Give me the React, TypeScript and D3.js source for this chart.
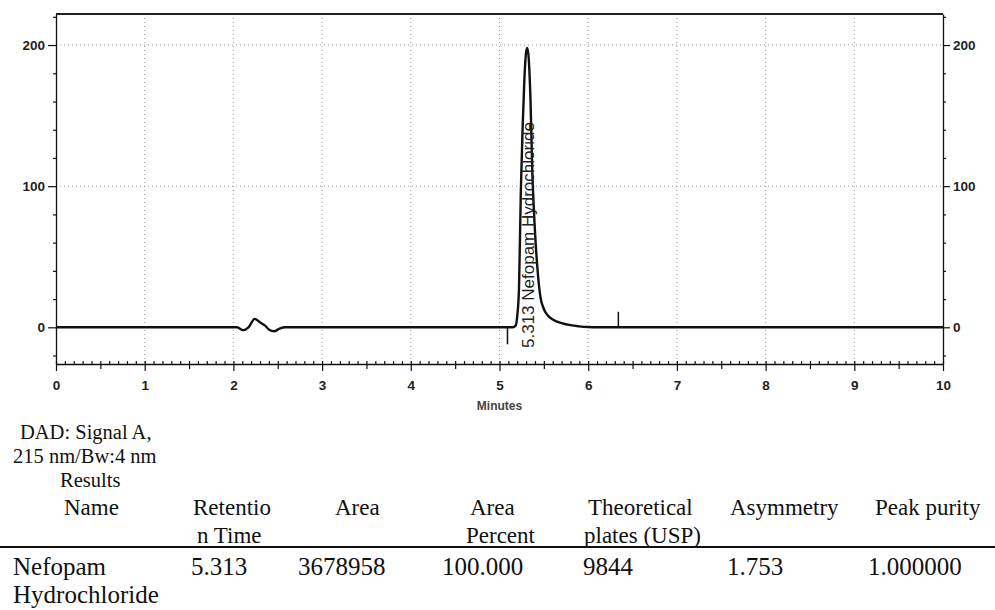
import React, { useEffect, useRef } from "react";
import * as d3 from "d3";

const W = 995;
const H = 610;
const margin = { top: 14, right: 52, bottom: 246, left: 56 };

// chromatogram trace (minutes, mAU)
const traceTime = [
  0, 2.04, 2.11, 2.17, 2.24, 2.3, 2.36, 2.4, 2.46, 2.52, 2.58,
  5.15, 5.18, 5.2, 5.22, 5.24, 5.26, 5.28, 5.3, 5.313, 5.33, 5.35, 5.37,
  5.4, 5.43, 5.46, 5.5, 5.55, 5.6, 5.7, 5.8, 5.9, 6.0, 6.1, 10,
];
const traceAbs = [
  0, 0, -2, 0, 6, 3.5, 1, -1.5, -2.8, -1, 0,
  0, 1, 8, 28, 95, 140, 175, 195, 198, 190, 160, 110,
  68, 40, 22, 13, 8, 5.5, 3, 1.5, 0.7, 0.2, 0, 0,
];

// integration event marks on the baseline
const markTime = [5.09, 6.34];
const markAbs = [-12, 11];

const peakTime = 5.313;
const peakLabel = "5.313 Nefopam Hydrochloride";

const xMajor = [0, 1, 2, 3, 4, 5, 6, 7, 8, 9, 10];
const xGrid = [1, 2, 3, 4, 5, 6, 7, 8, 9];
const yMajor = [0, 100, 200];
const yGrid = [100, 200];
const yMinor = [-20, 20, 40, 60, 80, 120, 140, 160, 180, 220];

// results table
const headerLines = ["DAD: Signal A,", "215 nm/Bw:4 nm", "Results"];
const colHead1 = ["Name", "Retentio", "Area", "Area", "Theoretical", "Asymmetry", "Peak purity"];
const colHead2 = ["", "n Time", "", "Percent", "plates (USP)", "", ""];
const rowValues = ["Nefopam", "5.313", "3678958", "100.000", "9844", "1.753", "1.000000"];
const rowValues2 = ["Hydrochloride", "", "", "", "", "", ""];

const colX1 = [64, 193, 335, 470, 588, 730, 875];
const colX2 = [64, 197, 335, 466, 584, 730, 875];
const colXData = [13, 191, 298, 442, 583, 727, 868];

const App = () => {
  const ref = useRef<SVGSVGElement>(null);

  useEffect(() => {
    const svg = d3.select(ref.current);
    svg.selectAll("*").remove();

    const width = W - margin.left - margin.right;
    const height = H - margin.top - margin.bottom;
    const x = d3.scaleLinear().domain([0, 10]).range([margin.left, margin.left + width]);
    const y = d3.scaleLinear().domain([-26, 222]).range([margin.top + height, margin.top]);
    const bottom = margin.top + height;
    const right = margin.left + width;

    //// Grid
    const grid = svg.append("g").attr("stroke", "#999").attr("stroke-width", 1)
      .attr("stroke-dasharray", "1,3");
    xGrid.forEach((t) => {
      grid.append("line").attr("x1", x(t)).attr("x2", x(t))
        .attr("y1", margin.top).attr("y2", bottom);
    });
    yGrid.forEach((v) => {
      grid.append("line").attr("x1", margin.left).attr("x2", right)
        .attr("y1", y(v)).attr("y2", y(v));
    });

    //// Axes
    const font = "'Liberation Sans', Arial, sans-serif";
    const styleAxis = (g: any) => {
      g.selectAll("path").attr("stroke", "#111").attr("stroke-width", 1.3);
      g.selectAll("line").attr("stroke", "#111").attr("stroke-width", 1.2);
      g.selectAll("text").attr("font-family", font).attr("font-size", 13.5)
        .attr("font-weight", "bold").attr("fill", "#222");
    };

    svg.append("g").attr("transform", `translate(${margin.left},0)`)
      .call(d3.axisLeft(y).tickValues(yMajor).tickSize(8).tickPadding(3).tickSizeOuter(0))
      .call(styleAxis);
    svg.append("g").attr("transform", `translate(${margin.left},0)`)
      .call(d3.axisLeft(y).tickValues(yMinor).tickSize(3).tickFormat(() => ""))
      .call((g) => g.select(".domain").remove())
      .call(styleAxis);
    svg.append("g").attr("transform", `translate(${right},0)`)
      .call(d3.axisRight(y).tickValues(yMajor).tickSize(7).tickPadding(3).tickSizeOuter(0))
      .call(styleAxis);
    svg.append("g").attr("transform", `translate(${right},0)`)
      .call(d3.axisRight(y).tickValues(yMinor).tickSize(3).tickFormat(() => ""))
      .call((g) => g.select(".domain").remove())
      .call(styleAxis);

    svg.append("g").attr("transform", `translate(0,${bottom})`)
      .call(d3.axisBottom(x).tickValues(xMajor).tickSize(7).tickPadding(9).tickSizeOuter(0))
      .call(styleAxis);
    svg.append("g").attr("transform", `translate(0,${bottom})`)
      .call(d3.axisBottom(x).tickValues(d3.range(0.5, 10, 1)).tickSize(5).tickFormat(() => ""))
      .call((g) => g.select(".domain").remove())
      .call(styleAxis);
    svg.append("g").attr("transform", `translate(0,${bottom})`)
      .call(d3.axisTop(x).ticks(100).tickSize(3).tickFormat(() => ""))
      .call((g) => g.select(".domain").remove())
      .call(styleAxis);

    // top border
    svg.append("line").attr("x1", margin.left).attr("x2", right)
      .attr("y1", margin.top).attr("y2", margin.top)
      .attr("stroke", "#222").attr("stroke-width", 2);

    svg.append("text").attr("x", x(5)).attr("y", 410)
      .attr("text-anchor", "middle").attr("font-family", font)
      .attr("font-size", 12).attr("font-weight", "bold").attr("fill", "#444")
      .text("Minutes");

    //// Trace
    const pts: [number, number][] = traceTime.map((t, i) => [t, traceAbs[i]]);
    const line = d3.line<[number, number]>()
      .x((d) => x(d[0]))
      .y((d) => y(d[1]))
      .curve(d3.curveMonotoneX);
    svg.append("path").datum(pts)
      .attr("fill", "none").attr("stroke", "#111").attr("stroke-width", 2.4)
      .attr("stroke-linejoin", "round")
      .attr("d", line);

    markTime.forEach((t, i) => {
      svg.append("line").attr("x1", x(t)).attr("x2", x(t))
        .attr("y1", y(0)).attr("y2", y(markAbs[i]))
        .attr("stroke", "#111").attr("stroke-width", 1.5);
    });

    svg.append("text")
      .attr("transform", `translate(${x(peakTime) + 7},348) rotate(-90)`)
      .attr("font-family", font).attr("font-size", 17).attr("fill", "#222")
      .text(peakLabel);

    //// Results table
    const serif = "'Liberation Serif', 'Times New Roman', serif";
    const tbl = svg.append("g").attr("font-family", serif).attr("fill", "#111");
    const headX = [20, 13, 60];
    headerLines.forEach((s, i) => {
      tbl.append("text").attr("x", headX[i]).attr("y", 439 + i * 24)
        .attr("font-size", 20.5).text(s);
    });
    colHead1.forEach((s, i) => {
      tbl.append("text").attr("x", colX1[i]).attr("y", 515).attr("font-size", 23).text(s);
    });
    colHead2.forEach((s, i) => {
      if (s) tbl.append("text").attr("x", colX2[i]).attr("y", 543).attr("font-size", 23).text(s);
    });
    tbl.append("line").attr("x1", 0).attr("x2", W).attr("y1", 547).attr("y2", 547)
      .attr("stroke", "#111").attr("stroke-width", 2);
    rowValues.forEach((s, i) => {
      tbl.append("text").attr("x", colXData[i]).attr("y", 575).attr("font-size", 25).text(s);
    });
    rowValues2.forEach((s, i) => {
      if (s) tbl.append("text").attr("x", colXData[i]).attr("y", 603).attr("font-size", 25).text(s);
    });
  }, []);

  return (
    <div style={{ position: "absolute", left: 0, top: 0, background: "#fff" }}>
      <svg ref={ref} width={W} height={H}></svg>
    </div>
  );
};

export default App;
